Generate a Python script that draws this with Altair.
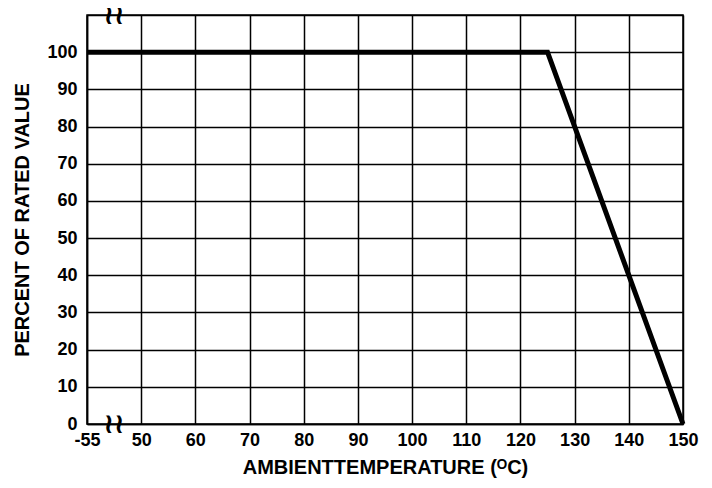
import altair as alt
import pandas as pd

# Derating curve values
temps = [-55, 125, 150]
percent = [100, 100, 0]

# Axis tick labels (broken x axis: -55 then 50..150 evenly spaced)
x_tick_labels = ["-55", "50", "60", "70", "80", "90", "100", "110", "120", "130", "140", "150"]
y_ticks = [0, 10, 20, 30, 40, 50, 60, 70, 80, 90, 100, 110]

df = pd.DataFrame({"temp": temps, "pct": percent})

FONT = "Liberation Sans"

pos_expr = "datum.temp < 0 ? 0 : (datum.temp - 40) / 10"
label_expr = "datum.value == 0 ? '-55' : format(datum.value * 10 + 40, 'd')"

xscale = alt.Scale(domain=[0, 11], nice=False, zero=False)
yscale = alt.Scale(domain=[0, 110], nice=False)

xaxis = alt.Axis(values=list(range(len(x_tick_labels))), labelExpr=label_expr,
                 title="AMBIENTTEMPERATURE (ᴼC)",
                 grid=True, gridColor="black", gridWidth=1.5, gridOpacity=1,
                 ticks=False, domain=True, domainColor="black", domainWidth=1.5,
                 labelOverlap=False, labelFlush=False,
                 labelFont=FONT, labelFontSize=18, labelFontWeight="bold",
                 labelColor="black", labelPadding=7,
                 titleFont=FONT, titleFontSize=20, titleFontWeight="bold",
                 titleColor="black", titlePadding=8)
yaxis = alt.Axis(values=y_ticks,
                 labelExpr="datum.value == 110 ? '' : datum.label",
                 title="PERCENT OF RATED VALUE",
                 grid=True, gridColor="black", gridWidth=1.5, gridOpacity=1,
                 ticks=False, domain=True, domainColor="black", domainWidth=1.5,
                 labelOverlap=False, labelFlush=False,
                 labelFont=FONT, labelFontSize=18, labelFontWeight="bold",
                 labelColor="black", labelPadding=10,
                 titleFont=FONT, titleFontSize=20, titleFontWeight="bold",
                 titleColor="black", titlePadding=14)

line = alt.Chart(df).transform_calculate(pos=pos_expr).mark_line(
    color="black", strokeWidth=5, strokeCap="butt", strokeJoin="miter"
).encode(
    x=alt.X("pos:Q", scale=xscale, axis=xaxis),
    y=alt.Y("pct:Q", scale=yscale, axis=yaxis),
)

breaks = pd.DataFrame({"pos": [0.5, 0.5], "pct": [110, 0]})
brk = alt.Chart(breaks).mark_text(
    text="≀≀", fontSize=28, font="DejaVu Sans", fontWeight="bold",
    color="black", baseline="middle", dy=1
).encode(x=alt.X("pos:Q", scale=xscale, axis=xaxis),
         y=alt.Y("pct:Q", scale=yscale, axis=yaxis))

chart = alt.layer(line, brk).properties(
    width=596, height=409,
    background="white",
    autosize=alt.AutoSizeParams(type="none"),
    padding={"left": 79, "top": 7, "right": 21, "bottom": 56},
).configure_view(stroke="black", strokeWidth=1.5)

chart.save("out.html", embed_options={"renderer": "svg", "actions": False})
